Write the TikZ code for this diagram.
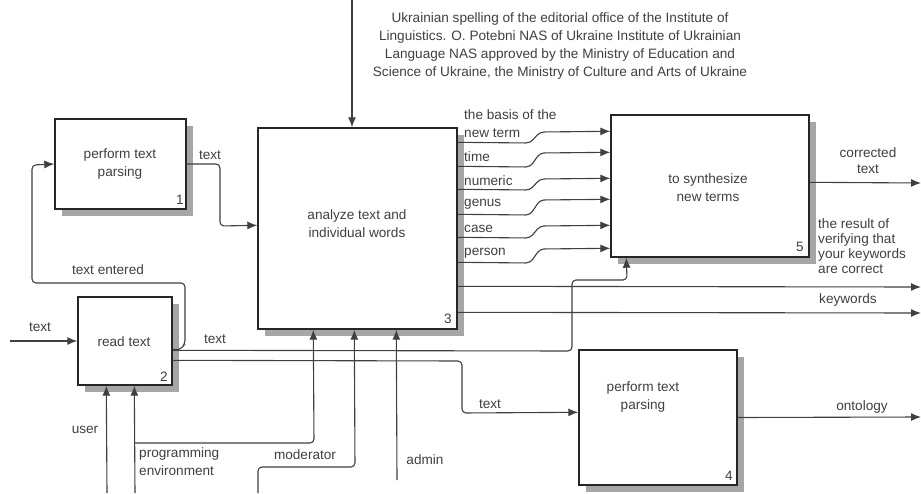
\documentclass[tikz,border=0pt]{standalone}
\usepackage{fontspec}
\setmainfont{Liberation Sans}
\usetikzlibrary{arrows.meta,shadows,calc}
\begin{document}
\begin{tikzpicture}[x=1pt,y=-1pt,
  font=\fontsize{13.6}{18}\selectfont,
  box/.style={draw=black!85,line width=1.4pt,fill=white,rectangle,inner sep=0pt,
    drop shadow={shadow xshift=7pt,shadow yshift=-7pt,fill=black!35,opacity=1}},
  btxt/.style={text=black!75,align=center,inner sep=0pt},
  lbl/.style={text=black!75,inner sep=0pt,align=left},
  num/.style={text=black!75,inner sep=0pt},
  arr/.style={draw=black!75,line width=1.1pt,rounded corners=4pt,-{Latex[length=10pt,width=8pt]}},
  ln/.style={draw=black!75,line width=1.1pt,rounded corners=4pt}]
\useasboundingbox[fill=white] (0,0) rectangle (921,493);

% boxes
\node[box,minimum width=131pt,minimum height=90pt] (b1) at (120.5,164) {};
\node[box,minimum width=94pt,minimum height=88pt] (b2) at (125,341) {};
\node[box,minimum width=199pt,minimum height=201pt] (b3) at (357.5,228.5) {};
\node[box,minimum width=198pt,minimum height=142pt] (b5) at (710,186) {};
\node[box,minimum width=158pt,minimum height=135pt] (b4) at (658,417.5) {};

% box texts
\node[btxt] (t1) at (120,164) {perform text\\parsing};
\node[btxt] (t2) at (124,342) {read text};
\node[btxt] (t3) at (357,224) {analyze text and\\individual words};
\node[btxt] (t5) at (708,188) {to synthesize\\new terms};
\node[btxt] (t4) at (643,397) {perform text\\parsing};

% numbers
\node[num] (n1) at (180,200) {1};
\node[num] (n2) at (164,377) {2};
\node[num] (n3) at (448,319) {3};
\node[num] (n5) at (800,247) {5};
\node[num] (n4) at (729,476) {4};

% coordinates for free ends
\coordinate (topin) at (352,0);
\coordinate (in2) at (10,341);
\coordinate (usr) at (107,493);
\coordinate (prg) at (135,493);
\coordinate (mod) at (258,493);
\coordinate (adm) at (397,480);
\coordinate (oCorr) at (921,183);
\coordinate (oRes) at (921,287);
\coordinate (oKey) at (921,313);
\coordinate (oOnt) at (921,417);

% top control
\draw[arr] (topin) -- (topin |- b3.north);
\node[text=black!75,align=center,inner sep=0pt] (ctl) at (560,46)
 {Ukrainian spelling of the editorial office of the Institute of\\
  Linguistics. O. Potebni NAS of Ukraine Institute of Ukrainian\\
  Language NAS approved by the Ministry of Education and\\
  Science of Ukraine, the Ministry of Culture and Arts of Ukraine};

% box1 -> box3
\draw[arr] (b1.east) -- (220,164) -- (220,226) -- ([yshift=-98pt]b3.north west);
\node[lbl] (l1) at (210,155) {text};

% input text -> box2
\draw[arr] (in2) -- (b2.west);
\node[lbl] (l2) at (40,327) {text};

% text entered feedback
\draw[arr] ([yshift=-53pt]b2.north east) -- (180,350) -- (185,344) -- (185,283) -- (32,283) -- (32,165) -- (b1.west);
\node[lbl] (l3) at (108,270) {text entered};

% box2 -> box5 bottom
\draw[arr] ([yshift=-54pt]b2.north east) -- (572,351) -- (572,280) -- (627,280) -- ([xshift=16pt]b5.south west);
\node[lbl] (l4) at (215,339) {text};

% box2 -> box4
\draw[arr] ([yshift=-64pt]b2.north east) -- (462,361) -- (462,413) -- ([yshift=-63pt]b4.north west);
\node[lbl] (l5) at (490,404) {text};

% mechanisms
\draw[arr] (usr) -- ([xshift=29pt]b2.south west);
\node[lbl] (l6) at (85,430) {user};
\draw[arr] (prg) -- ([xshift=57pt]b2.south west);
\draw[arr] (135,443) -- (314,443) -- ([xshift=56pt]b3.south west);
\node[lbl,anchor=west] (l7) at (139,462) {programming\\environment};
\draw[arr] (mod) -- (258,467) -- (355,467) -- ([xshift=97pt]b3.south west);
\node[lbl] (l8) at (305,455) {moderator};
\draw[arr] (adm) -- ([xshift=139pt]b3.south west);
\node[lbl] (l9) at (425,460) {admin};

% box3 -> box5 (six)
\draw[arr] ([yshift=-15pt]b3.north east) -- (530,143) -- (540,132) -- ([yshift=-17pt]b5.north west);
\draw[arr] ([yshift=-39pt]b3.north east) -- (530,167) -- (540,153) -- ([yshift=-38pt]b5.north west);
\draw[arr] ([yshift=-62pt]b3.north east) -- (530,190) -- (540,179) -- ([yshift=-64pt]b5.north west);
\draw[arr] ([yshift=-87pt]b3.north east) -- (530,215) -- (540,200) -- ([yshift=-85pt]b5.north west);
\draw[arr] ([yshift=-110pt]b3.north east) -- (530,238) -- (540,226) -- ([yshift=-111pt]b5.north west);
\draw[arr] ([yshift=-135pt]b3.north east) -- (530,263) -- (540,249) -- ([yshift=-134pt]b5.north west);
\node[lbl,anchor=west] (m1) at (464,124) {the basis of the\\new term};
\node[lbl,anchor=west] (m2) at (464,157) {time};
\node[lbl,anchor=west] (m3) at (464,181) {numeric};
\node[lbl,anchor=west] (m4) at (464,204) {genus};
\node[lbl,anchor=west] (m5) at (464,229) {case};
\node[lbl,anchor=west] (m6) at (464,253) {person};

% outputs
\draw[arr] ([yshift=-159pt]b3.north east) -- (oRes);
\draw[arr] ([yshift=-185pt]b3.north east) -- (oKey);
\node[lbl,anchor=west,font=\fontsize{13.6}{15}\selectfont] (o1) at (818,246) {the result of\\verifying that\\your keywords\\are correct};
\node[lbl,anchor=west] (o2) at (819,300) {keywords};
\draw[arr] ([yshift=-68pt]b5.north east) -- (oCorr);
\node[lbl,align=center,font=\fontsize{13.6}{16}\selectfont] (o3) at (868,161) {corrected\\text};
\draw[arr] (b4.east) -- (oOnt);
\node[lbl] (o4) at (862,407) {ontology};
\end{tikzpicture}
\end{document}
